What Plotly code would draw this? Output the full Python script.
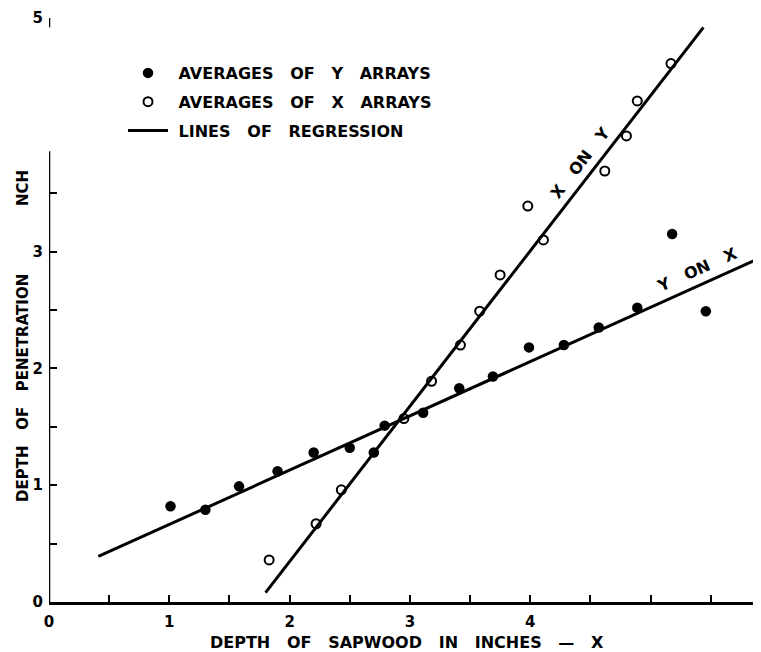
import plotly.graph_objects as go

# averages of Y arrays (filled dots)
yarr_x = [1.01, 1.30, 1.58, 1.90, 2.20, 2.50, 2.70, 2.79, 3.11, 3.41, 3.69, 3.99, 4.28, 4.57, 4.89, 5.18, 5.46]
yarr_y = [0.82, 0.79, 0.99, 1.12, 1.28, 1.32, 1.28, 1.51, 1.62, 1.83, 1.93, 2.18, 2.20, 2.35, 2.52, 3.15, 2.49]

# averages of X arrays (open circles)
xarr_x = [1.83, 2.22, 2.43, 2.95, 3.18, 3.42, 3.58, 3.75, 3.98, 4.11, 4.62, 4.80, 4.89, 5.17]
xarr_y = [0.36, 0.67, 0.96, 1.57, 1.89, 2.20, 2.49, 2.80, 3.39, 3.10, 3.69, 3.99, 4.29, 4.61]

# lines of regression, end points
yonx_x = [0.41, 5.92]
yonx_y = [0.39, 2.95]
xony_x = [1.80, 5.44]
xony_y = [0.08, 4.92]

x_ticks = [0, 0.5, 1, 1.5, 2, 2.5, 3, 3.5, 4, 4.5, 5, 5.5]
x_labels = ["0", "", "1", "", "2", "", "3", "", "4", "", "", ""]
y_ticks = [0, 0.5, 1, 1.5, 2, 2.5, 3, 3.5, 5]
y_labels = ["0", "", "1", "", "2", "", "3", "", "5"]

FONT = "DejaVu Sans"
SP = "\u00a0" * 3  # wide word spacing like the lettering


def spaced(*words):
    return SP.join(words)


bold = dict(family=FONT, size=16, color="black", weight="bold")
bold15 = dict(family=FONT, size=15, color="black", weight="bold")

fig = go.Figure()
fig.add_trace(go.Scatter(x=yarr_x, y=yarr_y, mode="markers",
                         name="\u00a0" + spaced("AVERAGES", "OF", "Y", "ARRAYS"),
                         marker=dict(color="black", size=10.5, symbol="circle"),
                         legendgroup="a"))
fig.add_trace(go.Scatter(x=xarr_x, y=xarr_y, mode="markers",
                         name="\u00a0" + spaced("AVERAGES", "OF", "X", "ARRAYS"),
                         marker=dict(color="white", size=9, symbol="circle",
                                     line=dict(color="black", width=2)),
                         legendgroup="b"))
fig.add_trace(go.Scatter(x=yonx_x, y=yonx_y, mode="lines",
                         name="\u00a0" + spaced("LINES", "OF", "REGRESSION"),
                         line=dict(color="black", width=3), legendgroup="c"))
fig.add_trace(go.Scatter(x=xony_x, y=xony_y, mode="lines", showlegend=False,
                         line=dict(color="black", width=3), legendgroup="c"))

# broken y axis line
fig.add_shape(type="line", x0=0, x1=0, y0=0, y1=3.86, xref="x", yref="y",
              line=dict(color="black", width=2.5))
fig.add_shape(type="line", x0=0, x1=0, y0=4.92, y1=5, xref="x", yref="y",
              line=dict(color="black", width=2.5))

fig.add_annotation(x=4.42, y=3.76, text=spaced("X", "ON", "Y"), textangle=-52,
                   showarrow=False, font=bold, xanchor="center", yanchor="middle")
fig.add_annotation(x=5.39, y=2.85, text=spaced("Y", "ON", "X"), textangle=-24,
                   showarrow=False, font=bold, xanchor="center", yanchor="middle")

# axis titles (plot area is 712 x 584 px)
fig.add_annotation(xref="paper", yref="paper", x=(407 - 49) / 712, y=-(642 - 602) / 584,
                   text=spaced("DEPTH", "OF", "SAPWOOD", "IN", "INCHES", "—", "X"),
                   showarrow=False, font=bold, xanchor="center", yanchor="middle")
fig.add_annotation(xref="paper", yref="paper", x=-(49 - 23) / 712, y=(602 - 388) / 584,
                   text=spaced("DEPTH", "OF", "PENETRATION"), textangle=-90,
                   showarrow=False, font=bold15, xanchor="center", yanchor="middle")
fig.add_annotation(xref="paper", yref="paper", x=-(49 - 23) / 712, y=(602 - 188) / 584,
                   text="NCH", textangle=-90,
                   showarrow=False, font=bold15, xanchor="center", yanchor="middle")

fig.update_xaxes(range=[0, 712 / 120.3], tickvals=x_ticks, ticktext=x_labels,
                 ticks="inside", ticklen=7, tickwidth=2, tickcolor="black",
                 showline=True, linecolor="black", linewidth=2.5,
                 showgrid=False, zeroline=False, ticklabelstandoff=4,
                 tickfont=bold15)
fig.update_yaxes(range=[0, 5], tickvals=y_ticks, ticktext=y_labels,
                 ticks="inside", ticklen=8, tickwidth=2, tickcolor="black",
                 showline=False, showgrid=False, zeroline=False, ticklabelstandoff=5,
                 tickfont=bold15)

# page body adds an 8 px margin, so the figure is 8 px smaller and shifted
fig.update_layout(
    width=753, height=644,
    margin=dict(l=41, r=0, t=10, b=50),
    plot_bgcolor="white", paper_bgcolor="white",
    legend=dict(x=(123 - 49) / 712, y=(602 - 56) / 584, xanchor="left", yanchor="top",
                itemwidth=40, tracegroupgap=5, bgcolor="rgba(0,0,0,0)",
                font=bold),
)

fig.write_html("out.html")
